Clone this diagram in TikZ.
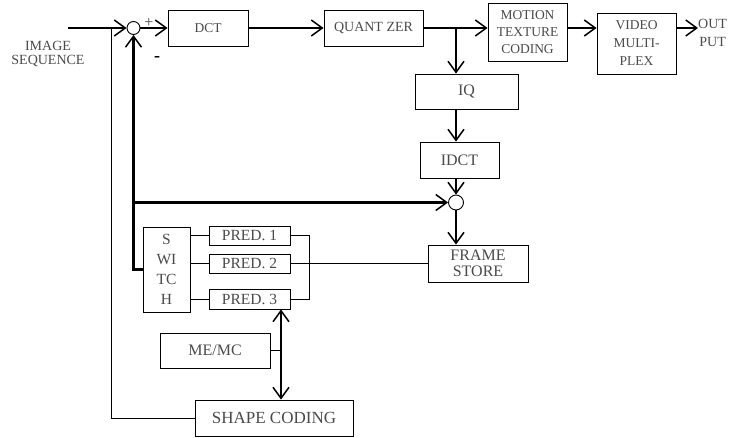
\documentclass[tikz,border=0pt]{standalone}
\usepackage{fontspec}
\setmainfont{Liberation Serif}
\usepackage{xcolor}
\usetikzlibrary{arrows.meta, positioning}
\definecolor{labelgray}{HTML}{4A4A4A}

\begin{document}
\begin{tikzpicture}[
    x = 1pt, y = -1pt,
    every node/.style = {font=\fontsize{14}{17}\selectfont, text=labelgray},
    block/.style = {rectangle, draw=black, line width=0.9pt, inner sep=0pt, align=center},
    sumnode/.style = {circle, draw=black, line width=0.9pt, minimum size=13pt, inner sep=0pt},
    arrow/.style = {-{Straight Barb[length=11pt, width=16pt, line width=1.5pt]}, line width=2.1pt},
    darrow/.style = {{Straight Barb[length=11pt, width=16pt, line width=1.5pt]}-{Straight Barb[length=11pt, width=16pt, line width=1.5pt]}, line width=2.1pt},
    link/.style = {line width=0.9pt}
  ]
    \useasboundingbox (0,0) rectangle (733,437);

    % Forward path
    \coordinate (in) at (68,28);
    \node[sumnode] (sum1) at (133.5,28) {};
    \node[block, minimum width=80pt, minimum height=36pt, font=\fontsize{13.5}{17}\selectfont] (dct) at (208,28) {DCT};
    \node[block, minimum width=99pt, minimum height=36pt] (quant) at (373.5,28) {QUANT ZER};
    \node[block, minimum width=79pt, minimum height=58pt, font=\fontsize{13.5}{17}\selectfont] (motion) at (527.5,32) {MOTION\\TEXTURE\\CODING};
    \node[block, minimum width=79pt, minimum height=61pt, font=\fontsize{13.5}{18}\selectfont] (mux) at (636.5,43.5) {VIDEO\\MULTI-\\PLEX};
    \node[anchor=west, inner sep=0pt, align=center, font=\fontsize{14}{18}\selectfont] (out) at (698,33) {OUT\\PUT};
    \node[align=center, font=\fontsize{14}{14}\selectfont] (label) at (48,54) {IMAGE\\SEQUENCE};
    \node[font=\fontsize{16}{16}\selectfont] (plus) at (149,23) {+};
    \node[font=\bfseries\fontsize{18}{18}\selectfont, text=black] (minus) at (157,59) {-};

    % Reconstruction loop
    \coordinate (branch) at (456,28);
    \node[block, minimum width=103pt, minimum height=35pt, font=\fontsize{16}{17}\selectfont] (iq) at (466.5,91.5) {IQ};
    \node[block, minimum width=79pt, minimum height=36pt, font=\fontsize{16}{17}\selectfont] (idct) at (459.5,160) {IDCT};
    \node[sumnode, minimum size=15pt] (sum2) at (456,202.5) {};
    \node[block, minimum width=100pt, minimum height=37pt, font=\fontsize{16}{16}\selectfont] (store) at (478,263.5) {FRAME\\STORE};
    \coordinate (fb) at (133.5,202.5);

    % Prediction
    \node[block, minimum width=47pt, minimum height=85pt, font=\fontsize{15.5}{20}\selectfont] (switch) at (166.5,269.5) {S\\WI\\TC\\H};
    \node[block, minimum width=81pt, minimum height=19pt, font=\fontsize{15.5}{17}\selectfont] (pred1) at (249.5,235.5) {PRED. 1};
    \node[block, minimum width=81pt, minimum height=19pt, font=\fontsize{15.5}{17}\selectfont] (pred2) at (249.5,263.5) {PRED. 2};
    \node[block, minimum width=81pt, minimum height=20pt, font=\fontsize{15.5}{17}\selectfont] (pred3) at (249.5,299) {PRED. 3};
    \node[block, minimum width=110pt, minimum height=35pt, font=\fontsize{16}{17}\selectfont] (memc) at (215,350.5) {ME/MC};
    \node[block, minimum width=158pt, minimum height=36pt, font=\fontsize{17}{17}\selectfont] (shape) at (274,418) {SHAPE CODING};
    \coordinate (tap) at (281,0);
    \coordinate (tee) at (111,28);

    % Arrows
    \draw[arrow] (in) -- (sum1.west);
    \draw[arrow] (sum1.east) -- (dct.west);
    \draw[arrow] (dct.east) -- (quant.west);
    \draw[arrow] (quant.east) -- (quant.east -| motion.west);
    \draw[arrow] (motion.east |- in) -- (mux.west |- in);
    \draw[arrow] (mux.east |- in) -- (out.west |- in);
    \draw[arrow] (branch) -- (branch |- iq.north);
    \draw[arrow] (iq.south -| branch) -- (idct.north -| branch);
    \draw[arrow] (idct.south -| sum2) -- (sum2.north);
    \draw[arrow] (sum2.south) -- (sum2.south |- store.north);
    \draw[arrow] (fb) -- (sum2.west);
    \draw[arrow] (switch.west) -| (sum1.south);
    \draw[darrow] (pred3.south -| tap) -- (shape.north -| tap);

    % Thin links
    \draw[link] (switch.east |- pred1) -- (pred1.west);
    \draw[link] (switch.east |- pred2) -- (pred2.west);
    \draw[link] (switch.east |- pred3) -- (pred3.west);
    \draw[link] (pred1.east) -- ++(19,0) |- (pred3.east);
    \draw[link] (pred2.east) -- (pred2.east -| store.west);
    \draw[link] (memc.east) -- (memc.east -| tap);
    \draw[link] (shape.west) -| (tee);

  \end{tikzpicture}
\end{document}
